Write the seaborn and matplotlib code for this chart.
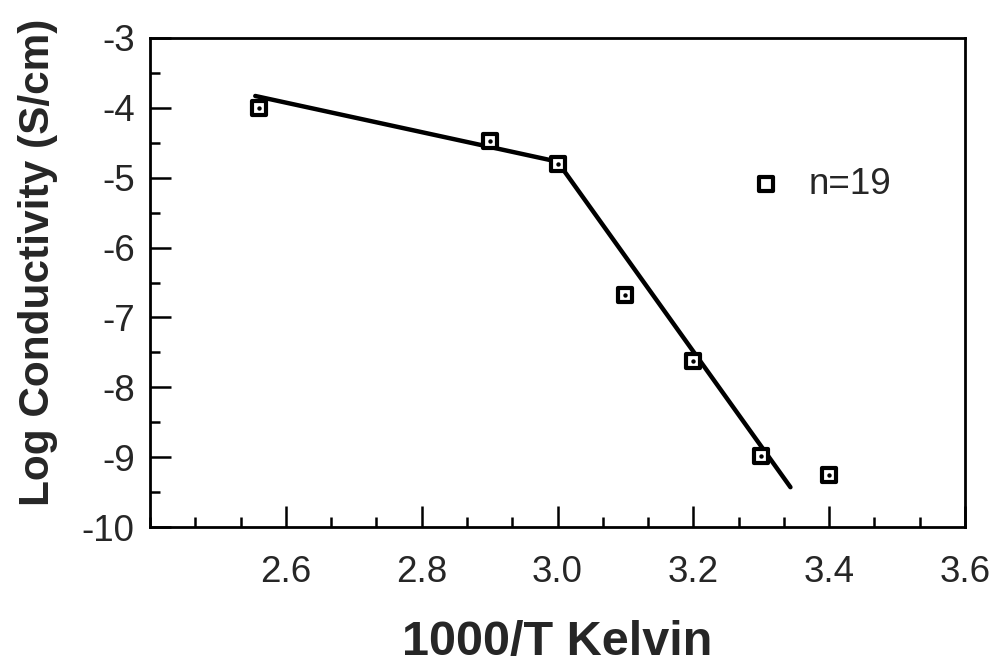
import matplotlib
matplotlib.use("Agg")
import matplotlib.pyplot as plt
import seaborn as sns
import pandas as pd
from matplotlib.ticker import MultipleLocator, FixedLocator

# ---- data ----
inv_temp = [2.56, 2.9, 3.0, 3.1, 3.2, 3.3, 3.4]
log_cond = [-4.00, -4.47, -4.80, -6.68, -7.63, -8.98, -9.25]
fit_x = [2.555, 3.0, 3.343]
fit_y = [-3.83, -4.77, -9.43]
x_ticks = [2.6, 2.8, 3.0, 3.2, 3.4, 3.6]
x_tick_labels = ["2.6", "2.8", "3.0", "3.2", "3.4", "3.6"]
y_ticks = [-10, -9, -8, -7, -6, -5, -4, -3]
y_tick_labels = ["-10", "-9", "-8", "-7", "-6", "-5", "-4", "-3"]
legend_label = "n=19"
x_label = "1000/T Kelvin"
y_label = "Log Conductivity (S/cm)"

sns.set_style("ticks")
plt.rcParams["font.family"] = ["Liberation Sans", "DejaVu Sans"]
plt.rcParams["axes.unicode_minus"] = False

fig = plt.figure(figsize=(10, 6.7), dpi=100)
ax = fig.add_axes([0.15, 0.2134, 0.815, 0.7299])

pts = pd.DataFrame({"x": inv_temp, "y": log_cond})
fit = pd.DataFrame({"x": fit_x, "y": fit_y})

sns.lineplot(data=fit, x="x", y="y", ax=ax, color="black", linewidth=3.2,
             estimator=None, sort=False, zorder=2)
sns.scatterplot(data=pts, x="x", y="y", ax=ax, marker="s", s=100,
                facecolor="white", edgecolor="black", linewidth=3.0,
                label=legend_label, zorder=3)
sns.scatterplot(data=pts, x="x", y="y", ax=ax, marker="o", s=10,
                color="black", linewidth=0, zorder=4, legend=False)

ax.set_xlim(2.4, 3.6)
ax.set_ylim(-10, -3)

ax.xaxis.set_major_locator(FixedLocator(x_ticks))
ax.set_xticklabels(x_tick_labels)
ax.xaxis.set_minor_locator(MultipleLocator(0.2 / 3))
ax.yaxis.set_major_locator(FixedLocator(y_ticks))
ax.set_yticklabels(y_tick_labels)
ax.yaxis.set_minor_locator(MultipleLocator(0.5))

ax.tick_params(axis="both", which="major", direction="in", length=15,
               width=1.8, color="black", labelsize=26.5, top=False, right=False)
ax.tick_params(axis="both", which="minor", direction="in", length=7.5,
               width=1.8, color="black", top=False, right=False)
ax.tick_params(axis="x", which="major", pad=20)
ax.tick_params(axis="y", which="major", pad=11)

for sp in ax.spines.values():
    sp.set_visible(True)
    sp.set_color("black")
    sp.set_linewidth(2.0)

ax.set_xlabel(x_label, fontsize=35, fontweight="bold")
ax.xaxis.set_label_coords(0.5, -0.19)
ax.set_ylabel(y_label, fontsize=30.5, fontweight="bold")
ax.yaxis.set_label_coords(-0.113, 0.542)

ax.legend(loc="center left", bbox_to_anchor=(0.733, 0.701), frameon=False,
          fontsize=26.5, handlelength=1.0, handletextpad=0.65,
          borderaxespad=0, borderpad=0)

fig.savefig("out.png", dpi=100, facecolor="white")
